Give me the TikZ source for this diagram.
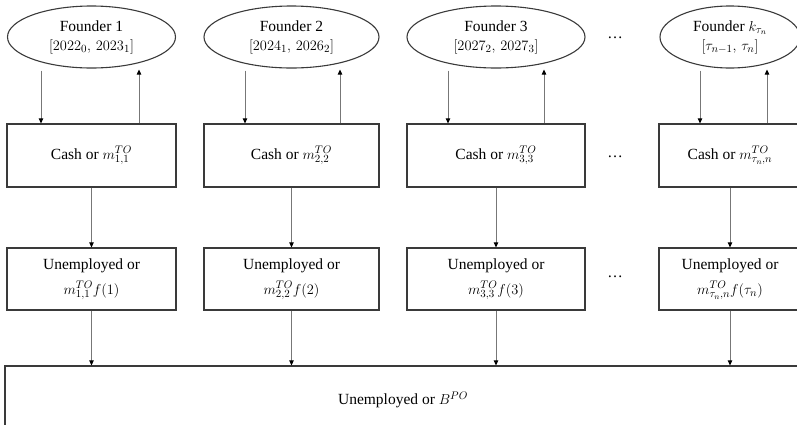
\documentclass[tikz,border=0pt]{standalone}
\usepackage{fontspec}
\setmainfont{Liberation Serif}
\usetikzlibrary{shapes.geometric,arrows.meta}
\definecolor{boxline}{HTML}{3A3A3A}
\definecolor{arrline}{HTML}{777777}
\tikzset{
  basefont/.style={font=\fontsize{15.5}{18}\selectfont},
  founder/.style={ellipse,draw=boxline,line width=1.1pt,inner sep=0pt,align=center,basefont},
  stagebox/.style={rectangle,draw=boxline,line width=1.2pt,inner sep=0pt,align=center,basefont},
  arr/.style={draw=arrline,line width=0.8pt,-{Triangle[length=5pt,width=4.5pt,fill=black,color=black]}},
  dotsnode/.style={basefont,inner sep=0pt}
}
\begin{document}
\begin{tikzpicture}[x=1pt,y=-1pt]
\useasboundingbox (0,0) rectangle (797,424);
\clip (0,0) rectangle (797,424);
% founders
\node[founder,minimum width=168pt,minimum height=62pt] (f1) at (91.5,37) {Founder 1\\[1pt]$[2022_0,\,2023_1]$};
\node[founder,minimum width=175pt,minimum height=62pt] (f2) at (291.5,37) {Founder 2\\[1pt]$[2024_1,\,2026_2]$};
\node[founder,minimum width=178pt,minimum height=62pt] (f3) at (496,37) {Founder 3\\[1pt]$[2027_2,\,2027_3]$};
\node[founder,minimum width=140pt,minimum height=62pt] (f4) at (730,37) {Founder $k_{\tau_n}$\\[1pt]$[\tau_{n-1},\,\tau_n]$};
% cash boxes
\node[stagebox,minimum width=169pt,minimum height=63pt] (c1) at (91.5,155.5) {Cash or $m^{TO}_{1,1}$};
\node[stagebox,minimum width=175pt,minimum height=63pt] (c2) at (291.5,155.5) {Cash or $m^{TO}_{2,2}$};
\node[stagebox,minimum width=178pt,minimum height=63pt] (c3) at (496,155.5) {Cash or $m^{TO}_{3,3}$};
\node[stagebox,minimum width=142pt,minimum height=63pt] (c4) at (730,155.5) {Cash or $m^{TO}_{\tau_n,n}$};
% unemployed boxes
\node[stagebox,minimum width=169pt,minimum height=62pt] (u1) at (91.5,279) {Unemployed or\\[7pt]$m^{TO}_{1,1}f(1)$};
\node[stagebox,minimum width=175pt,minimum height=62pt] (u2) at (291.5,279) {Unemployed or\\[7pt]$m^{TO}_{2,2}f(2)$};
\node[stagebox,minimum width=178pt,minimum height=62pt] (u3) at (496,279) {Unemployed or\\[7pt]$m^{TO}_{3,3}f(3)$};
\node[stagebox,minimum width=142pt,minimum height=62pt] (u4) at (730,279) {Unemployed or\\[7pt]$m^{TO}_{\tau_n,n}f(\tau_n)$};
% bottom box
\node[stagebox,minimum width=796pt,minimum height=68pt] (b) at (403,400) {Unemployed or $B^{PO}$};
% dots
\node[dotsnode] (d1) at (615,38) {\ldots};
\node[dotsnode] (d2) at (615,157) {\ldots};
\node[dotsnode] (d3) at (615,277) {\ldots};
% founder <-> cash arrows
\draw[arr] ([xshift=-50.5pt,yshift=-2pt]f1.south) -- ([xshift=-50.5pt]c1.north);
\draw[arr] ([xshift=47.5pt]c1.north) -- ([xshift=47.5pt,yshift=-1pt]f1.south);
\draw[arr] ([xshift=-46.5pt,yshift=-2pt]f2.south) -- ([xshift=-46.5pt]c2.north);
\draw[arr] ([xshift=48.5pt]c2.north) -- ([xshift=48.5pt,yshift=-1pt]f2.south);
\draw[arr] ([xshift=-48pt,yshift=-2pt]f3.south) -- ([xshift=-48pt]c3.north);
\draw[arr] ([xshift=48pt]c3.north) -- ([xshift=48pt,yshift=-1pt]f3.south);
\draw[arr] ([xshift=-30pt,yshift=-2pt]f4.south) -- ([xshift=-30pt]c4.north);
\draw[arr] ([xshift=37pt]c4.north) -- ([xshift=37pt,yshift=-1pt]f4.south);
% cash -> unemployed
\draw[arr] (c1.south) -- (u1.north);
\draw[arr] (c2.south) -- (u2.north);
\draw[arr] (c3.south) -- (u3.north);
\draw[arr] (c4.south) -- (u4.north);
% unemployed -> bottom
\draw[arr] (u1.south) -- (u1.south |- b.north);
\draw[arr] (u2.south) -- (u2.south |- b.north);
\draw[arr] (u3.south) -- (u3.south |- b.north);
\draw[arr] (u4.south) -- (u4.south |- b.north);
\end{tikzpicture}
\end{document}
